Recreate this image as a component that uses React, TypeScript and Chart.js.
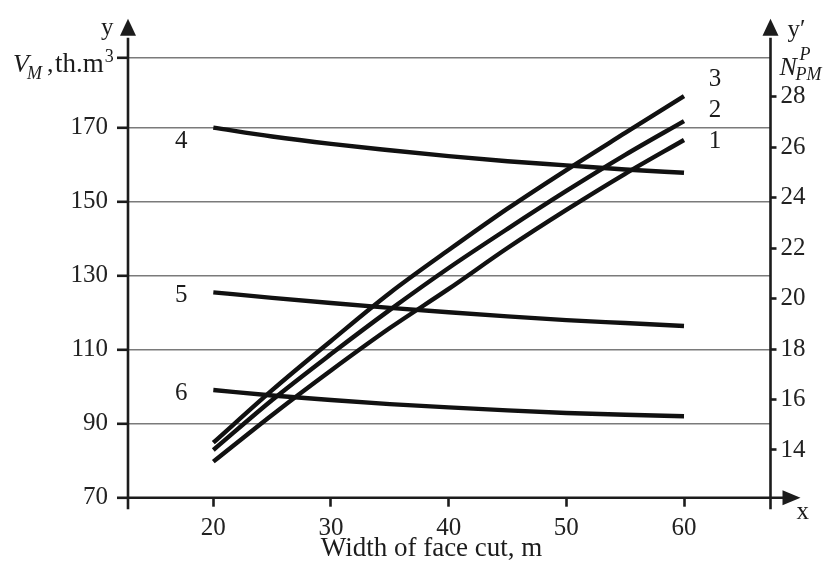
import React, { useEffect, useRef } from "react";
import { Chart, registerables } from "chart.js";

Chart.register(...registerables);

// ---- data ----
const widths = [20, 25, 30, 35, 40, 45, 50, 55, 60];
// curves 1-3 : right axis (N^P_PM)
const curve1 = [13.54, 15.39, 17.15, 18.83, 20.38, 22.0, 23.51, 24.94, 26.28];
const curve2 = [14.0, 15.98, 17.8, 19.55, 21.21, 22.76, 24.26, 25.69, 27.03];
const curve3 = [14.29, 16.37, 18.32, 20.22, 21.92, 23.56, 25.09, 26.56, 28.02];
// curves 4-6 : left axis (V_M, th.m3)
const curve4 = [170, 167.6, 165.6, 163.9, 162.3, 160.9, 159.8, 158.7, 157.8];
const curve5 = [125.5, 124.0, 122.6, 121.3, 120.1, 119.0, 118.0, 117.2, 116.4];
const curve6 = [99.1, 97.6, 96.4, 95.3, 94.4, 93.6, 92.9, 92.4, 92.0];

const xTicks = [20, 30, 40, 50, 60];
const leftTicks = [70, 90, 110, 130, 150, 170];
const rightTicks = [14, 16, 18, 20, 22, 24, 26, 28];
const curveNames = ["1", "2", "3", "4", "5", "6"];

const X_MIN = 12.75;
const X_MAX = 67.35;
const YL_MIN = 70;
const YL_MAX = 188.9;
const YR_MIN = 12.11;
const YR_MAX = 29.54;

const FONT = "'Liberation Serif', 'Times New Roman', serif";
const INK = "#1c1c1c";
const GRID = "#7a7a7a";

const pts = (arr: number[]) => arr.map((y, i) => ({ x: widths[i], y }));

const decor = {
  id: "decor",
  afterDraw(chart: any) {
    const { ctx, chartArea: ca, scales } = chart;
    const xs = scales.x;
    const yl = scales.yL;
    const yr = scales.yR;
    ctx.save();
    ctx.strokeStyle = INK;
    ctx.fillStyle = INK;
    ctx.lineWidth = 2.6;
    ctx.lineCap = "butt";

    const seg = (x1: number, y1: number, x2: number, y2: number) => {
      ctx.beginPath();
      ctx.moveTo(x1, y1);
      ctx.lineTo(x2, y2);
      ctx.stroke();
    };
    const tri = (a: number[], b: number[], c: number[]) => {
      ctx.beginPath();
      ctx.moveTo(a[0], a[1]);
      ctx.lineTo(b[0], b[1]);
      ctx.lineTo(c[0], c[1]);
      ctx.closePath();
      ctx.fill();
    };

    const tipY = ca.top - 39;
    const baseY = ca.top - 22;
    // left axis
    seg(ca.left, ca.bottom + 11.5, ca.left, baseY + 2);
    tri([ca.left, tipY], [ca.left - 8, baseY], [ca.left + 8, baseY]);
    // right axis
    seg(ca.right, ca.bottom + 11.5, ca.right, baseY + 2);
    tri([ca.right, tipY], [ca.right - 8, baseY], [ca.right + 8, baseY]);
    // x axis
    const tipX = ca.right + 30;
    const baseX = ca.right + 12;
    seg(ca.left, ca.bottom, baseX + 2, ca.bottom);
    tri([tipX, ca.bottom], [baseX, ca.bottom - 7.5], [baseX, ca.bottom + 7.5]);

    // axis texts
    ctx.textBaseline = "alphabetic";
    ctx.textAlign = "left";
    const big = `25px ${FONT}`;
    const bigIt = `italic 26px ${FONT}`;
    const small = `18px ${FONT}`;
    const smallIt = `italic 18px ${FONT}`;

    ctx.font = big;
    ctx.fillText("y", ca.left - 27, ca.top - 23);
    // V_M, th.m^3
    const base1 = ca.top + 14.5;
    ctx.font = bigIt;
    ctx.fillText("V", ca.left - 115, base1);
    ctx.font = smallIt;
    ctx.fillText("M", ca.left - 101, base1 + 7);
    ctx.font = `26px ${FONT}`;
    ctx.fillText(",", ca.left - 81, base1);
    ctx.font = `27px ${FONT}`;
    const thX = ca.left - 73;
    ctx.fillText("th.m", thX, base1);
    const thW = ctx.measureText("th.m").width;
    ctx.font = small;
    ctx.fillText("3", thX + thW + 1, base1 - 10);

    // right: y', N^P_PM
    ctx.font = big;
    ctx.fillText("y\u2032", ca.right + 17, ca.top - 21);
    ctx.font = bigIt;
    ctx.fillText("N", ca.right + 9, ca.top + 17);
    ctx.font = smallIt;
    ctx.fillText("P", ca.right + 29, ca.top + 2.5);
    ctx.fillText("PM", ca.right + 25, ca.top + 22);

    // x letter
    ctx.font = big;
    ctx.fillText("x", ca.right + 26, ca.bottom + 21);

    // x title
    ctx.textAlign = "right";
    ctx.font = `27px ${FONT}`;
    ctx.fillText("Width of face cut, m", xs.getPixelForValue(50) - 24, ca.bottom + 58);

    // curve labels
    ctx.font = big;
    ctx.textAlign = "center";
    ctx.textBaseline = "middle";
    const last = widths.length - 1;
    const rightSets = [curve1, curve2, curve3];
    const rOff = [1, -11, -17];
    rightSets.forEach((c, i) => {
      ctx.fillText(
        curveNames[i],
        xs.getPixelForValue(widths[last]) + 31,
        yr.getPixelForValue(c[last]) + rOff[i]
      );
    });
    const leftSets = [curve4, curve5, curve6];
    const lOff = [14, 3, 3];
    leftSets.forEach((c, i) => {
      ctx.fillText(
        curveNames[i + 3],
        xs.getPixelForValue(widths[0]) - 32,
        yl.getPixelForValue(c[0]) + lOff[i]
      );
    });
    ctx.restore();
  },
};

export default function App() {
  const ref = useRef<HTMLCanvasElement | null>(null);

  useEffect(() => {
    if (!ref.current) return;
    const ds = (data: number[], axis: string) => ({
      data: pts(data),
      yAxisID: axis,
      borderColor: "#111111",
      borderWidth: 4.4,
      pointRadius: 0,
      fill: false,
      tension: 0.4,
      cubicInterpolationMode: "monotone" as const,
      borderCapStyle: "butt" as const,
    });
    const tickFont = { family: FONT, size: 25 };
    const chart = new Chart(ref.current, {
      type: "line",
      data: {
        datasets: [
          ds(curve1, "yR"),
          ds(curve2, "yR"),
          ds(curve3, "yR"),
          ds(curve4, "yL"),
          ds(curve5, "yL"),
          ds(curve6, "yL"),
        ],
      },
      options: {
        responsive: false,
        animation: false,
        devicePixelRatio: 1,
        layout: { padding: { top: 57.7, left: 0, right: 0, bottom: 0 } },
        plugins: { legend: { display: false }, tooltip: { enabled: false }, title: { display: false } },
        scales: {
          x: {
            type: "linear",
            position: "bottom",
            min: X_MIN,
            max: X_MAX,
            afterBuildTicks: (s: any) => {
              s.ticks = xTicks.map((v) => ({ value: v }));
            },
            afterFit: (s: any) => {
              s.height = 70.3;
            },
            ticks: {
              font: tickFont,
              color: "#222",
              padding: 7,
              maxRotation: 0,
              autoSkip: false,
              callback: (v: any) => String(v),
            },
            grid: {
              drawOnChartArea: false,
              tickLength: 9,
              tickColor: INK,
              tickWidth: 2.6,
            },
            border: { display: false },
          },
          yL: {
            type: "linear",
            position: "left",
            min: YL_MIN,
            max: YL_MAX,
            afterBuildTicks: (s: any) => {
              s.ticks = [...leftTicks, YL_MAX].map((v) => ({ value: v }));
            },
            afterFit: (s: any) => {
              s.width = 128;
            },
            ticks: {
              font: tickFont,
              color: "#222",
              padding: 9,
              autoSkip: false,
              callback: (v: any) => (leftTicks.includes(Number(v)) ? String(v) : ""),
            },
            grid: {
              color: (c: any) => (c.tick && c.tick.value === YL_MIN ? "rgba(0,0,0,0)" : GRID),
              lineWidth: 1.6,
              tickLength: 11,
              tickColor: INK,
              tickWidth: 2.6,
            },
            border: { display: false },
          },
          yR: {
            type: "linear",
            position: "right",
            min: YR_MIN,
            max: YR_MAX,
            afterBuildTicks: (s: any) => {
              s.ticks = rightTicks.map((v) => ({ value: v }));
            },
            afterFit: (s: any) => {
              s.width = 57.5;
            },
            ticks: {
              font: tickFont,
              color: "#222",
              padding: 4,
              autoSkip: false,
              callback: (v: any) => String(v),
            },
            grid: {
              drawOnChartArea: false,
              tickLength: 6,
              tickColor: INK,
              tickWidth: 2.6,
            },
            border: { display: false },
          },
        },
      },
      plugins: [decor],
    });
    return () => chart.destroy();
  }, []);

  return (
    <div style={{ position: "fixed", left: 0, top: 0, width: 828, height: 568, background: "#fff" }}>
      <canvas ref={ref} width={828} height={568} style={{ display: "block" }} />
    </div>
  );
}
